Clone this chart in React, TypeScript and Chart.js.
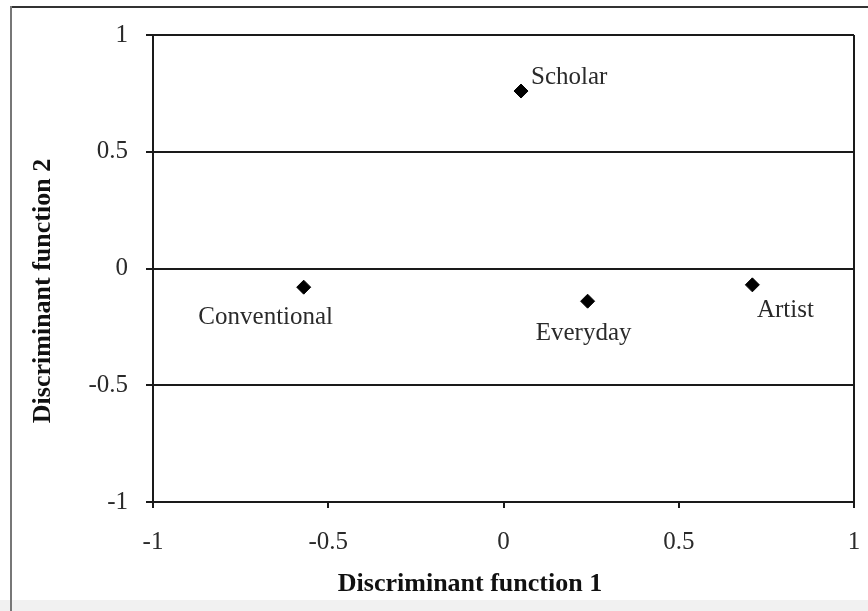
import React, { useEffect, useRef } from 'react';
import { Chart, registerables } from 'chart.js';

Chart.register(...registerables);

// ---- data ----
const groups = ['Scholar', 'Conventional', 'Everyday', 'Artist'];
const function1 = [0.05, -0.57, 0.24, 0.71];
const function2 = [0.76, -0.08, -0.14, -0.07];
const xTicks = [-1, -0.5, 0, 0.5, 1];
const yTicks = [-1, -0.5, 0, 0.5, 1];
const xTitle = 'Discriminant function 1';
const yTitle = 'Discriminant function 2';

// ---- styles ----
const FONT = '"Liberation Serif", "Times New Roman", serif';
const LINE = '#1a1a1a';
const TEXT = '#2a2a2a';
const labelOffsets: Record<string, { dx: number; dy: number; align: CanvasTextAlign }> = {
  Scholar: { dx: 10, dy: -14, align: 'left' },
  Conventional: { dx: -38, dy: 30, align: 'center' },
  Everyday: { dx: -4, dy: 32, align: 'center' },
  Artist: { dx: 33, dy: 26, align: 'center' },
};

const annotatePlugin = {
  id: 'annotate',
  afterDatasetsDraw(chart: any) {
    const ctx = chart.ctx as CanvasRenderingContext2D;
    const meta = chart.getDatasetMeta(0);
    ctx.save();
    ctx.fillStyle = TEXT;
    ctx.font = `25px ${FONT}`;
    ctx.textBaseline = 'middle';
    meta.data.forEach((pt: any, i: number) => {
      const name = groups[i];
      const o = labelOffsets[name];
      ctx.textAlign = o.align;
      ctx.fillText(name, pt.x + o.dx, pt.y + o.dy);
    });
    // axis titles
    ctx.fillStyle = '#111';
    ctx.font = `bold 26px ${FONT}`;
    ctx.textAlign = 'center';
    ctx.fillText(xTitle, 470, 584);
    ctx.translate(43, 291);
    ctx.rotate(-Math.PI / 2);
    ctx.fillText(yTitle, 0, 0);
    ctx.restore();
  },
};

export default function App() {
  const ref = useRef<HTMLCanvasElement | null>(null);

  useEffect(() => {
    if (!ref.current) return;
    const chart = new Chart(ref.current, {
      type: 'scatter',
      data: {
        datasets: [
          {
            label: 'Groups',
            data: groups.map((g, i) => ({ x: function1[i], y: function2[i] })),
            pointStyle: 'rectRot',
            pointRadius: 7,
            pointHoverRadius: 7,
            backgroundColor: '#000',
            borderColor: '#000',
            borderWidth: 1,
          },
        ],
      },
      options: {
        responsive: false,
        animation: false,
        layout: { padding: { left: 0, top: 35, right: 14, bottom: 0 } },
        plugins: {
          legend: { display: false },
          tooltip: { enabled: false },
          title: { display: false },
        },
        scales: {
          x: {
            type: 'linear',
            min: -1,
            max: 1,
            afterBuildTicks: (axis: any) => {
              axis.ticks = xTicks.map((v) => ({ value: v }));
            },
            afterFit: (axis: any) => {
              axis.height = 109;
              axis.paddingLeft = 0;
              axis.paddingRight = 0;
            },
            border: { display: true, color: LINE, width: 2 },
            grid: {
              color: (c: any) => (c.tick && c.tick.value === 1 ? LINE : 'rgba(0,0,0,0)'),
              tickColor: LINE,
              lineWidth: 2,
              tickWidth: 2,
              tickLength: 6,
              drawTicks: true,
            },
            ticks: {
              color: TEXT,
              font: { family: FONT, size: 25 },
              padding: 19,
              maxRotation: 0,
              callback: (v: any) => String(v),
            },
          },
          y: {
            type: 'linear',
            min: -1,
            max: 1,
            afterBuildTicks: (axis: any) => {
              axis.ticks = yTicks.map((v) => ({ value: v }));
            },
            afterFit: (axis: any) => {
              axis.width = 153;
              axis.paddingTop = 0;
              axis.paddingBottom = 0;
            },
            border: { display: true, color: LINE, width: 2 },
            grid: {
              color: LINE,
              tickColor: LINE,
              lineWidth: 2,
              tickWidth: 2,
              tickLength: 7,
            },
            ticks: {
              color: TEXT,
              font: { family: FONT, size: 25 },
              padding: 18,
              callback: (v: any) => String(v),
            },
          },
        },
      },
      plugins: [annotatePlugin],
    });
    return () => chart.destroy();
  }, []);

  return (
    <div style={{ position: 'absolute', left: 0, top: 0, width: 868, height: 611, background: '#fff', overflow: 'hidden' }}>
      <div style={{ position: 'absolute', left: 0, top: 600, width: 868, height: 11, background: '#f1f1f1' }} />
      <div style={{ position: 'absolute', left: 10, top: 6, width: 858, height: 2, background: '#333' }} />
      <div style={{ position: 'absolute', left: 10, top: 6, width: 2, height: 605, background: '#777' }} />
      <canvas ref={ref} width={868} height={611} style={{ position: 'absolute', left: 0, top: 0, width: 868, height: 611 }} />
    </div>
  );
}
